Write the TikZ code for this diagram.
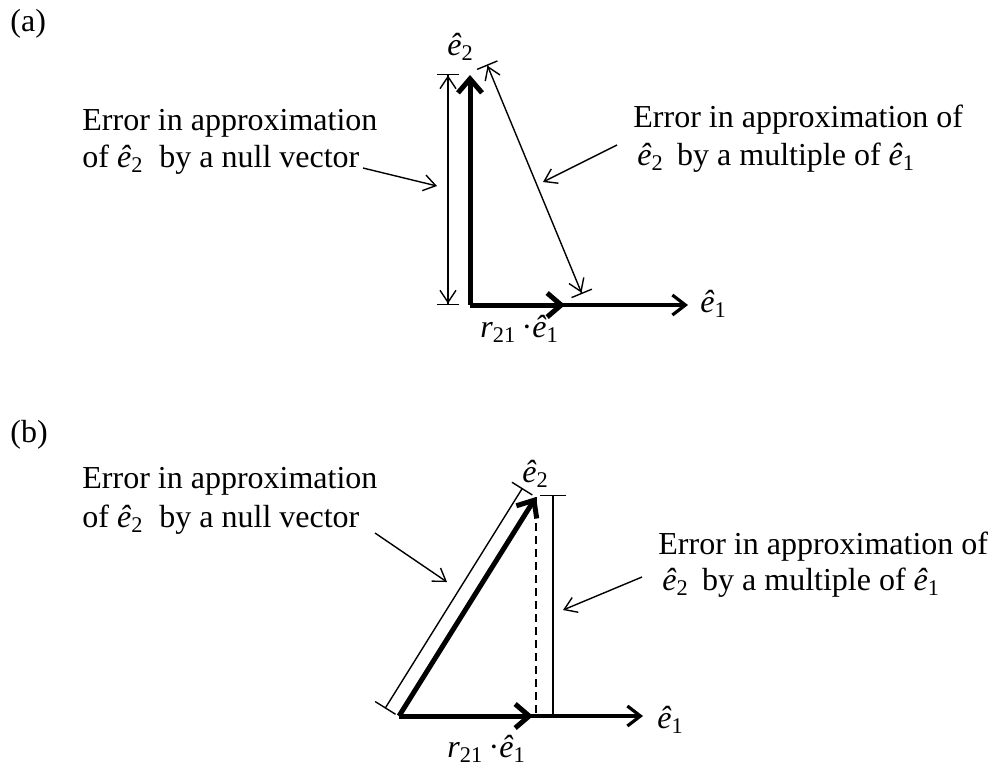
\documentclass[tikz,border=0pt]{standalone}
\usepackage{fontspec}
\setmainfont{Liberation Serif}
\usetikzlibrary{arrows.meta}
\newcommand{\uvec}[1]{\textit{ê}\textsubscript{#1}}
\begin{document}
\begin{tikzpicture}[x = 0.5pt, y = -0.5pt,
	lbl/.style = {anchor = base west, inner sep = 0pt, font = \fontsize{16}{18}\selectfont},
	errline/.style = {line width = 0.7pt},
	dbl/.style = {errline, {Bar[width = 11pt]Straight Barb[length = 6pt, width = 8pt]}-{Straight Barb[length = 6pt, width = 8pt]Bar[width = 11pt]}},
	pointer/.style = {errline, -{Straight Barb[length = 6pt, width = 8pt]}},
	vec/.style = {line width = 2.5pt, -{Straight Barb[length = 7pt, width = 12pt]}},
	axis/.style = {line width = 1.6pt, -{Straight Barb[length = 6.5pt, width = 10pt]}}]
	\useasboundingbox (0,0) rectangle (994,767);
	\coordinate (oa) at (470,305);
	\coordinate (e1a) at (688,305);
	\coordinate (ra) at (565,305);
	\coordinate (e2a) at (470,75);
	\coordinate (nulltopa) at (448,74);
	\coordinate (nullbota) at (448,305);
	\coordinate (multopa) at (487,64.5);
	\coordinate (mulbota) at (582,294);
	\coordinate (pnullsa) at (363,168);
	\coordinate (pnullea) at (437,186);
	\coordinate (pmulsa) at (617,145);
	\coordinate (pmulea) at (543,182);
	\node [lbl] (taga) at (10,31) {(a)};
	\node [lbl] (nulla1) at (82,130) {Error in approximation};
	\node [lbl] (nulla2) at (82,167) {of \uvec{2}\enspace by a null vector};
	\node [lbl] (mula1) at (633,127) {Error in approximation of};
	\node [lbl] (mula2) at (637,165) {\uvec{2}\, by a multiple of \uvec{1}};
	\node [lbl] (e2la) at (447,55) {\uvec{2}};
	\node [lbl] (e1la) at (700,312) {\uvec{1}};
	\node [lbl] (rla) at (480,337) {\textit{r}\textsubscript{21}\,·\uvec{1}};
	\draw [axis] (oa) -- (e1a);
	\draw [vec] (oa) -- (ra);
	\draw [vec] (oa) -- (e2a);
	\draw [dbl] (nulltopa) -- (nullbota);
	\draw [dbl] (multopa) -- (mulbota);
	\draw [pointer] (pnullsa) -- (pnullea);
	\draw [pointer] (pmulsa) -- (pmulea);
	\coordinate (ob) at (399,716);
	\coordinate (e1b) at (643,716);
	\coordinate (rb) at (533,716);
	\coordinate (e2b) at (536,497);
	\coordinate (footb) at (536,716);
	\coordinate (nulltopb) at (522.5,488);
	\coordinate (nullbotb) at (385,708.5);
	\coordinate (multopb) at (553,495);
	\coordinate (mulbotb) at (553,716);
	\coordinate (pnullsb) at (375,533);
	\coordinate (pnulleb) at (447,582);
	\coordinate (pmulsb) at (642,577);
	\coordinate (pmuleb) at (563,610);
	\node [lbl] (tagb) at (10,442) {(b)};
	\node [lbl] (nullb1) at (82,488) {Error in approximation};
	\node [lbl] (nullb2) at (82,527) {of \uvec{2}\enspace by a null vector};
	\node [lbl] (mulb1) at (658,554) {Error in approximation of};
	\node [lbl] (mulb2) at (662,590) {\uvec{2}\, by a multiple of \uvec{1}};
	\node [lbl] (e2lb) at (522,482) {\uvec{2}};
	\node [lbl] (e1lb) at (657,728) {\uvec{1}};
	\node [lbl] (rlb) at (447,757) {\textit{r}\textsubscript{21}\,·\uvec{1}};
	\draw [axis] (ob) -- (e1b);
	\draw [vec] (ob) -- (rb);
	\draw [vec] (ob) -- (e2b);
	\draw [errline, dashed, dash pattern = on 4pt off 2.5pt] (e2b) -- (footb);
	\draw [errline, {Bar[width = 12pt]}-{Bar[width = 12pt]}] (nulltopb) -- (nullbotb);
	\draw [errline, {Bar[width = 13pt]}-] (multopb) -- (mulbotb);
	\draw [pointer] (pnullsb) -- (pnulleb);
	\draw [pointer] (pmulsb) -- (pmuleb);
\end{tikzpicture}
\end{document}
